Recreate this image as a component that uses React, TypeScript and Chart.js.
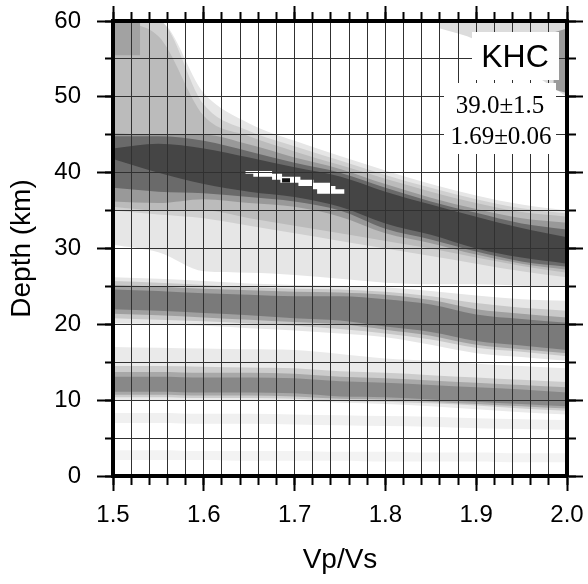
import React, { useEffect, useRef } from "react";
import { Chart, registerables } from "chart.js";
Chart.register(...registerables);

// ---------- data ----------
// Vp/Vs sample points at which the band edges were read
const kappa = [1.5, 1.55, 1.6, 1.65, 1.7, 1.75, 1.8, 1.85, 1.9, 1.95, 2.0];

// Main (Moho) stack band: upper / lower depth edges (km) of each grey level
const mohoFaintUpper = [60, 60, 50.5, 46.5, 44.2, 42.2, 40.3, 38.5, 37, 35.8, 35];
const mohoFaintLower = [30.5, 29.5, 27, 26.8, 26.5, 26, 25.5, 25.3, 25.3, 25.1, 25];
const mohoLightUpper = [60, 60, 49, 45.5, 43.5, 41.6, 39.7, 38, 36.5, 35.3, 34.6];
const mohoLightLower = [35, 34.5, 34, 33, 32, 31, 30, 29, 28, 27, 26.2];
const mohoMidUpper = [60, 58, 47.5, 44.8, 42.8, 41, 39.2, 37.5, 36, 34.8, 34.2];
const mohoMidLower = [35.5, 35, 35, 34, 33, 32, 31, 30, 28.8, 27.7, 26.8];
const mohoDarkUpper = [45.2, 45, 45, 43.7, 42, 40.5, 38.5, 36.7, 35.2, 34, 33.4];
const mohoDarkLower = [36.2, 36, 36.5, 36, 35.5, 34.2, 32, 30.7, 29.2, 28, 27.2];
const mohoDeepUpper = [44.8, 44.8, 44.2, 42.8, 41.3, 40, 38, 36.2, 34.7, 33.3, 32.5];
const mohoDeepLower = [38, 37.5, 37.3, 36.8, 36.2, 35, 32.6, 31.2, 29.6, 28.3, 27.6];
const mohoCoreUpper = [43.2, 43.8, 43.2, 42, 40.7, 39.5, 37.5, 35.8, 34.2, 32.7, 31.5];
const mohoCoreLower = [41.8, 40, 38.5, 37.5, 36.8, 35.5, 33.3, 31.8, 30, 28.8, 28];

// Band near 22 km
const b22FaintUpper = [26.2, 26, 25.7, 25.4, 25.2, 25.1, 24.9, 24.4, 23.8, 23.3, 23.1];
const b22FaintLower = [20.1, 20, 19.8, 19.5, 19.2, 18.8, 18.3, 17.3, 16.2, 15.7, 15.2];
const b22LightUpper = [25.7, 25.5, 25.2, 24.9, 24.7, 24.6, 24.3, 23.7, 22.8, 22.2, 21.8];
const b22LightLower = [20.8, 20.6, 20.4, 20.1, 19.8, 19.4, 18.8, 18.0, 16.9, 16.4, 15.8];
const b22MidUpper = [25.2, 25.0, 24.7, 24.5, 24.3, 24.2, 23.9, 23.2, 22.0, 21.4, 20.9];
const b22MidLower = [21.4, 21.2, 20.9, 20.6, 20.3, 20.0, 19.3, 18.5, 17.3, 16.7, 16.2];
const b22CoreUpper = [24.6, 24.4, 24.1, 23.9, 23.7, 23.7, 23.3, 22.6, 21.3, 20.7, 20.2];
const b22CoreLower = [22.0, 21.8, 21.5, 21.2, 20.8, 20.5, 19.7, 19.0, 17.8, 17.2, 16.6];

// Band near 12 km
const b12FaintUpper = [17, 16.9, 16.8, 16.7, 16.6, 16.1, 15.5, 15.2, 14.8, 14.5, 14.2];
const b12FaintLower = [10, 10, 10, 9.95, 9.9, 9.7, 9.5, 9.2, 8.8, 8.4, 8.1];
const b12LightUpper = [14.5, 14.5, 14.4, 14.3, 14.2, 13.8, 13.6, 13.3, 13, 12.7, 12.4];
const b12LightLower = [10.4, 10.4, 10.3, 10.3, 10.2, 9.9, 9.8, 9.6, 9.3, 8.9, 8.6];
const b12MidUpper = [13.7, 13.7, 13.6, 13.6, 13.5, 13.1, 12.9, 12.6, 12.3, 12, 11.7];
const b12MidLower = [10.7, 10.7, 10.6, 10.6, 10.5, 10.2, 10.1, 9.8, 9.5, 9.2, 8.9];
const b12CoreUpper = [13.1, 13.1, 13, 13, 12.9, 12.5, 12.3, 12, 11.7, 11.4, 11];
const b12CoreLower = [11.1, 11.1, 11, 11, 10.9, 10.5, 10.4, 10.1, 9.8, 9.5, 9.2];

// Faint shallow stripes
const stripe7Upper = [8.3, 8.3, 8.2, 8.2, 8.1, 8, 7.9, 7.8, 7.6, 7.5, 7.4];
const stripe7Lower = [7.0, 7.0, 6.9, 6.9, 6.8, 6.7, 6.6, 6.5, 6.3, 6.2, 6.1];
const stripe2Upper = [3.4, 3.4, 3.3, 3.3, 3.3, 3.2, 3.2, 3.1, 3.1, 3.0, 3.0];
const stripe2Lower = [2.1, 2.1, 2.1, 2.0, 2.0, 2.0, 1.9, 1.9, 1.9, 1.8, 1.8];

// Corner patches
const cornerLeftKappa = [1.5, 1.53];
const cornerLeftUpper = [60, 60];
const cornerLeftLower = [55.5, 55.5];
const cornerRightKappa = [1.86, 1.9, 1.95, 2.0];
const cornerRightUpper = [60, 60, 60, 60];
const cornerRightLower = [59, 57.5, 54, 50];
const edgeRightKappa = [1.985, 2.0];
const edgeRightUpper = [58.5, 59];
const edgeRightLower = [51, 50.5];

// Maximum-stack region (white) and its peak cell (black)
const peakUpperKappa = [1.6457, 1.6752, 1.6862, 1.7064, 1.7208, 1.7395, 1.745, 1.755];
const peakUpperDepth = [40.22, 39.87, 39.47, 39.07, 38.68, 38.24, 37.8, 37.8];
const peakLowerKappa = [1.6457, 1.6545, 1.6752, 1.6843, 1.7042, 1.72, 1.7248, 1.755];
const peakLowerDepth = [39.87, 39.47, 39.07, 38.68, 38.24, 37.8, 37.23, 37.23];
const bestKappa = [1.6862, 1.695];
const bestUpper = [39.25, 39.25];
const bestLower = [38.7, 38.7];

// Axes / labels
const xMajorTicks = [1.5, 1.6, 1.7, 1.8, 1.9, 2.0];
const xTickLabels = ["1.5", "1.6", "1.7", "1.8", "1.9", "2.0"];
const yMajorTicks = [0, 10, 20, 30, 40, 50, 60];
const yTickLabels = ["0", "10", "20", "30", "40", "50", "60"];
const xTitle = "Vp/Vs";
const yTitle = "Depth (km)";
const stationName = "KHC";
const depthEstimate = "39.0±1.5";
const ratioEstimate = "1.69±0.06";

// ---------- chart construction ----------
const xMinorTicks = Array.from({ length: 26 }, (_, i) => +(1.5 + i * 0.02).toFixed(2));
const yMinorTicks = Array.from({ length: 13 }, (_, i) => i * 5);

type Layer = {
  upper: number[];
  lower: number[];
  color: string;
  kUpper?: number[];
  kLower?: number[];
  stepped?: boolean | "before";
};

const layers: Layer[] = [
  { upper: mohoFaintUpper, lower: mohoFaintLower, color: "#e6e6e6" },
  { upper: mohoLightUpper, lower: mohoLightLower, color: "#d0d0d0" },
  { upper: mohoMidUpper, lower: mohoMidLower, color: "#bbbbbb" },
  { upper: mohoDarkUpper, lower: mohoDarkLower, color: "#999999" },
  { upper: mohoDeepUpper, lower: mohoDeepLower, color: "#6a6a6a" },
  { upper: mohoCoreUpper, lower: mohoCoreLower, color: "#454545" },
  { upper: b22FaintUpper, lower: b22FaintLower, color: "#e6e6e6" },
  { upper: b22LightUpper, lower: b22LightLower, color: "#c8c8c8" },
  { upper: b22MidUpper, lower: b22MidLower, color: "#a0a0a0" },
  { upper: b22CoreUpper, lower: b22CoreLower, color: "#7a7a7a" },
  { upper: b12FaintUpper, lower: b12FaintLower, color: "#eaeaea" },
  { upper: b12LightUpper, lower: b12LightLower, color: "#cccccc" },
  { upper: b12MidUpper, lower: b12MidLower, color: "#a8a8a8" },
  { upper: b12CoreUpper, lower: b12CoreLower, color: "#888888" },
  { upper: stripe7Upper, lower: stripe7Lower, color: "#f0f0f0" },
  { upper: stripe2Upper, lower: stripe2Lower, color: "#f3f3f3" },
  { upper: cornerLeftUpper, lower: cornerLeftLower, color: "#a2a2a2", kUpper: cornerLeftKappa, kLower: cornerLeftKappa },
  { upper: cornerRightUpper, lower: cornerRightLower, color: "#dcdcdc", kUpper: cornerRightKappa, kLower: cornerRightKappa },
  { upper: edgeRightUpper, lower: edgeRightLower, color: "#9a9a9a", kUpper: edgeRightKappa, kLower: edgeRightKappa },
  { upper: peakUpperDepth, lower: peakLowerDepth, color: "#ffffff", kUpper: peakUpperKappa, kLower: peakLowerKappa, stepped: "before" },
  { upper: bestUpper, lower: bestLower, color: "#111111", kUpper: bestKappa, kLower: bestKappa },
];

function buildDatasets() {
  const common = {
    borderWidth: 0,
    borderColor: "rgba(0,0,0,0)",
    pointRadius: 0,
    pointHoverRadius: 0,
    cubicInterpolationMode: "monotone" as const,
    xAxisID: "x",
    yAxisID: "y",
  };
  const ds: any[] = [];
  layers.forEach((L) => {
    const kl = L.kLower || kappa;
    const ku = L.kUpper || kappa;
    ds.push({
      ...common,
      stepped: L.stepped || false,
      data: kl.map((k, i) => ({ x: k, y: L.lower[i] })),
      fill: false,
    });
    ds.push({
      ...common,
      stepped: L.stepped || false,
      data: ku.map((k, i) => ({ x: k, y: L.upper[i] })),
      fill: "-1",
      backgroundColor: L.color,
    });
  });
  ds.forEach((d, i) => (d.order = ds.length - i));
  return ds;
}

const SANS = "'Liberation Sans', Arial, Helvetica, sans-serif";
const SERIF = "'Liberation Serif', 'Times New Roman', serif";
const FRAME = 4;

const setTicks = (vals: number[]) => (s: any) => {
  s.ticks = vals.map((v) => ({ value: v }));
};
const fixSize = (prop: "width" | "height", size: number) => (s: any) => {
  s[prop] = size;
  s.paddingTop = 0;
  s.paddingBottom = 0;
  s.paddingLeft = 0;
  s.paddingRight = 0;
};

const annotationPlugin = {
  id: "stationAnnotation",
  afterDraw(chart: any) {
    const { ctx, chartArea: a } = chart;
    ctx.save();
    ctx.fillStyle = "#ffffff";
    ctx.fillRect(a.right - 95, a.top + 11, 87, 48);
    ctx.fillRect(a.right - 123, a.top + 62, 112, 71);
    ctx.fillStyle = "#000000";
    ctx.textAlign = "center";
    ctx.textBaseline = "alphabetic";
    ctx.font = `32px ${SANS}`;
    ctx.fillText(stationName, a.right - 52, a.top + 46);
    ctx.font = `25px ${SERIF}`;
    ctx.fillText(depthEstimate, a.right - 67, a.top + 92);
    ctx.fillText(ratioEstimate, a.right - 66, a.top + 123);
    ctx.restore();
  },
};

export default function App() {
  const ref = useRef<HTMLCanvasElement>(null);
  useEffect(() => {
    const tickBase = { display: false };
    const chart = new Chart(ref.current as HTMLCanvasElement, {
      type: "line",
      data: { datasets: buildDatasets() },
      plugins: [annotationPlugin],
      options: {
        animation: false,
        responsive: false,
        devicePixelRatio: 1,
        events: [],
        layout: { padding: 0 },
        plugins: { legend: { display: false }, tooltip: { enabled: false } },
        scales: {
          x: {
            type: "linear",
            position: "bottom",
            weight: 0,
            min: 1.5,
            max: 2.0,
            afterBuildTicks: setTicks(xMinorTicks),
            ticks: tickBase,
            grid: { color: "#303030", lineWidth: 1, drawTicks: true, tickLength: 9, tickColor: "#000", tickWidth: 2, z: 1 },
            border: { display: true, color: "#000", width: FRAME, z: 2 },
            afterFit: fixSize("height", 0),
          },
          xMaj: {
            type: "linear",
            position: "bottom",
            weight: 1,
            min: 1.5,
            max: 2.0,
            afterBuildTicks: setTicks(xMajorTicks),
            ticks: {
              display: true,
              autoSkip: false,
              maxRotation: 0,
              padding: 10,
              color: "#000",
              font: { family: SANS, size: 24 },
              callback: (_v: any, i: number) => xTickLabels[i],
            },
            grid: { drawOnChartArea: false, drawTicks: true, tickLength: 15, tickColor: "#000", tickWidth: 2, z: 1 },
            border: { display: false },
            title: { display: true, text: xTitle, color: "#000", font: { family: SANS, size: 28 }, padding: { top: 0, bottom: 7 } },
            afterFit: fixSize("height", 108),
          },
          xTop: {
            type: "linear",
            position: "top",
            weight: 0,
            min: 1.5,
            max: 2.0,
            afterBuildTicks: setTicks(xMinorTicks),
            ticks: tickBase,
            grid: { drawOnChartArea: false, drawTicks: true, tickLength: 9, tickColor: "#000", tickWidth: 2, z: 1 },
            border: { display: true, color: "#000", width: FRAME, z: 2 },
            afterFit: fixSize("height", 0),
          },
          xTopMaj: {
            type: "linear",
            position: "top",
            weight: 1,
            min: 1.5,
            max: 2.0,
            afterBuildTicks: setTicks(xMajorTicks),
            ticks: tickBase,
            grid: { drawOnChartArea: false, drawTicks: true, tickLength: 15, tickColor: "#000", tickWidth: 2, z: 1 },
            border: { display: false },
            afterFit: fixSize("height", 21),
          },
          y: {
            type: "linear",
            position: "left",
            weight: 0,
            min: 0,
            max: 60,
            afterBuildTicks: setTicks(yMinorTicks),
            ticks: tickBase,
            grid: { color: "#303030", lineWidth: 1, drawTicks: true, tickLength: 8, tickColor: "#000", tickWidth: 2, z: 1 },
            border: { display: true, color: "#000", width: FRAME, z: 2 },
            afterFit: fixSize("width", 0),
          },
          yMaj: {
            type: "linear",
            position: "left",
            weight: 1,
            min: 0,
            max: 60,
            afterBuildTicks: setTicks(yMajorTicks),
            ticks: {
              display: true,
              autoSkip: false,
              padding: 16,
              color: "#000",
              font: { family: SANS, size: 24 },
              callback: (_v: any, i: number) => yTickLabels[i],
            },
            grid: { drawOnChartArea: false, drawTicks: true, tickLength: 16, tickColor: "#000", tickWidth: 2, z: 1 },
            border: { display: false },
            title: { display: true, text: yTitle, color: "#000", font: { family: SANS, size: 28 }, padding: { top: 5, bottom: 0 } },
            afterFit: fixSize("width", 113),
          },
          yR: {
            type: "linear",
            position: "right",
            weight: 0,
            min: 0,
            max: 60,
            afterBuildTicks: setTicks(yMinorTicks),
            ticks: tickBase,
            grid: { drawOnChartArea: false, drawTicks: true, tickLength: 9, tickColor: "#000", tickWidth: 2, z: 1 },
            border: { display: true, color: "#000", width: FRAME, z: 2 },
            afterFit: fixSize("width", 0),
          },
          yRMaj: {
            type: "linear",
            position: "right",
            weight: 1,
            min: 0,
            max: 60,
            afterBuildTicks: setTicks(yMajorTicks),
            ticks: tickBase,
            grid: { drawOnChartArea: false, drawTicks: true, tickLength: 16, tickColor: "#000", tickWidth: 2, z: 1 },
            border: { display: false },
            afterFit: fixSize("width", 21),
          },
        },
      } as any,
    });
    return () => chart.destroy();
  }, []);
  return (
    <div style={{ position: "fixed", left: 0, top: 0, width: 588, height: 584, background: "#fff" }}>
      <canvas ref={ref} width={588} height={584} style={{ display: "block", width: 588, height: 584 }} />
    </div>
  );
}
